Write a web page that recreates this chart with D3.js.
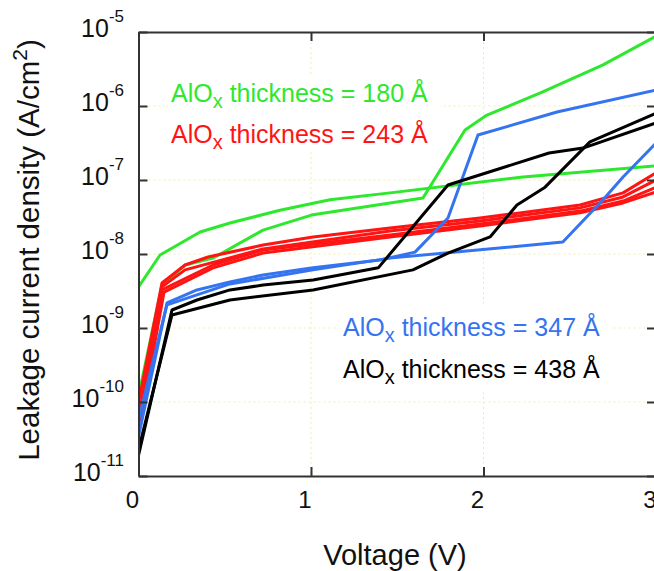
<!DOCTYPE html>
<html>
<head>
<meta charset="utf-8">
<script src="https://cdn.jsdelivr.net/npm/d3@7"></script>
<style>
  html, body { margin: 0; padding: 0; background: #fff; }
  svg { display: block; font-family: Arial, "Liberation Sans", sans-serif; }
</style>
</head>
<body>
<svg id="chart" width="654" height="571"></svg>
<script>
// Leakage current density J (A/cm^2) versus applied voltage V (V), [V, J] pairs
const green180a = [[0,3.6e-9],[0.125,9.7e-9],[0.357,1.98e-8],[0.53,2.62e-8],[0.82,3.9e-8],[1.11,5.4e-8],[1.458,6.7e-8],[2.229,1.1e-7],[3.0,1.55e-7]];
const green180b = [[0,1.2e-10],[0.136,3.8e-9],[0.27,7.1e-9],[0.432,8.8e-9],[0.722,2.1e-8],[1.012,3.4e-8],[1.458,4.9e-8],[1.649,5.7e-8],[1.893,4.75e-7],[2.02,7.55e-7],[2.33,1.5e-6],[2.693,3.6e-6],[3.0,8.8e-6]];

const red243a = [[0,9.7e-11],[0.136,4.05e-9],[0.27,7.1e-9],[0.403,9.1e-9],[0.722,1.32e-8],[1.012,1.7e-8],[1.458,2.24e-8],[1.98,3.06e-8],[2.56,4.6e-8],[2.809,6.7e-8],[3.0,1.25e-7]];
const red243b = [[0,6.1e-11],[0.136,3.6e-9],[0.27,6.1e-9],[0.722,1.17e-8],[1.458,2.05e-8],[1.98,2.8e-8],[2.56,4.2e-8],[2.809,5.9e-8],[3.0,1.0e-7]];
const red243c = [[0,4.9e-11],[0.136,3.27e-9],[0.432,7.1e-9],[0.722,1.13e-8],[1.458,1.8e-8],[1.98,2.54e-8],[2.56,3.8e-8],[2.809,5.2e-8],[3.0,8.0e-8]];
const red243d = [[0,3.8e-11],[0.148,3.06e-9],[0.432,6.5e-9],[0.722,1.03e-8],[1.458,1.7e-8],[1.98,2.39e-8],[2.56,3.6e-8],[2.809,4.9e-8],[3.0,6.9e-8]];

const blue347a = [[0,3.4e-11],[0.165,2.18e-9],[0.339,3.27e-9],[0.53,4.2e-9],[0.722,5.2e-9],[1.012,6.5e-9],[1.40,8.3e-9],[1.603,1.06e-8],[1.794,3.06e-8],[1.968,4.05e-7],[2.426,8.3e-7],[3.0,1.64e-6]];
const blue347b = [[0,5.7e-11],[0.165,2.05e-9],[0.53,3.94e-9],[1.012,6.1e-9],[1.458,8.8e-9],[2.46,1.45e-8],[2.693,5.4e-8],[2.809,1.1e-7],[3.0,3.16e-7]];

const black438a = [[0,1.9e-11],[0.194,1.75e-9],[0.339,2.39e-9],[0.53,3.27e-9],[0.722,3.8e-9],[1.012,4.45e-9],[1.39,6.5e-9],[1.794,8.55e-8],[2.38,2.32e-7],[2.577,2.7e-7],[3.0,5.9e-7]];
const black438b = [[0,2.25e-11],[0.194,1.5e-9],[0.53,2.39e-9],[1.012,3.27e-9],[1.591,6.1e-9],[1.794,1.03e-8],[2.038,1.7e-8],[2.194,4.6e-8],[2.357,8.0e-8],[2.617,3.27e-7],[3.0,8.0e-7]];

const xTicks = [0, 1, 2, 3];
const yExponents = [-5, -6, -7, -8, -9, -10, -11];

const thicknessLabels = ["180", "243", "347", "438"];
const seriesColors = ["#2ee82e", "#ff1414", "#3574f0", "#000000"];

const svg = d3.select("#chart");
const plotLeft = 138.5, plotRight = 656, plotTop = 32, plotBottom = 476;

const x = d3.scaleLinear().domain([0, 3]).range([plotLeft, plotRight]);
const y = d3.scaleLog().domain([1e-11, 1e-5]).range([plotBottom, plotTop]);

svg.append("defs").append("clipPath").attr("id", "plotClip")
  .append("rect").attr("x", plotLeft).attr("y", plotTop)
  .attr("width", plotRight - plotLeft).attr("height", plotBottom - plotTop);

// faint dotted grid
const grid = svg.append("g").attr("stroke", "#efefa6").attr("stroke-width", 1).attr("stroke-dasharray", "2,3");
[1, 2].forEach(v => grid.append("line").attr("x1", x(v)).attr("x2", x(v)).attr("y1", plotTop).attr("y2", plotBottom));
yExponents.slice(1, -1).forEach(e => grid.append("line")
  .attr("x1", plotLeft).attr("x2", plotRight)
  .attr("y1", y(Math.pow(10, e))).attr("y2", y(Math.pow(10, e))));

// white boxes behind the annotation text
svg.append("rect").attr("x", 165).attr("y", 75).attr("width", 275).attr("height", 76).attr("fill", "#fff");
svg.append("rect").attr("x", 338).attr("y", 306).attr("width", 274).attr("height", 84).attr("fill", "#fff");

// curves
const line = d3.line().x(d => x(d[0])).y(d => y(d[1]));
const curves = [
  [green180a, 0], [green180b, 0],
  [red243a, 1], [red243b, 1], [red243c, 1], [red243d, 1],
  [blue347a, 2], [blue347b, 2],
  [black438a, 3], [black438b, 3]
];
const plot = svg.append("g").attr("clip-path", "url(#plotClip)");
plot.selectAll("path").data(curves).join("path")
  .attr("d", d => line(d[0]))
  .attr("fill", "none")
  .attr("stroke", d => seriesColors[d[1]])
  .attr("stroke-width", 3)
  .attr("stroke-linejoin", "round");

// frame with inward ticks
const axisColor = "#333";
const ax = svg.append("g");
ax.append("g").attr("transform", `translate(0,${plotBottom})`)
  .call(d3.axisBottom(x).tickValues(xTicks).tickSizeInner(-9).tickSizeOuter(0).tickFormat(""));
ax.append("g").attr("transform", `translate(0,${plotTop})`)
  .call(d3.axisTop(x).tickValues(xTicks).tickSizeInner(-9).tickSizeOuter(0).tickFormat(""));
const yTickVals = yExponents.map(e => Math.pow(10, e));
ax.append("g").attr("transform", `translate(${plotLeft},0)`)
  .call(d3.axisLeft(y).tickValues(yTickVals).tickSizeInner(-9).tickSizeOuter(0).tickFormat(""));
ax.append("g").attr("transform", `translate(${plotRight},0)`)
  .call(d3.axisRight(y).tickValues(yTickVals).tickSizeInner(-9).tickSizeOuter(0).tickFormat(""));
ax.selectAll("path.domain, .tick line").attr("stroke", axisColor).attr("stroke-width", 2);

// x tick labels (the last one sits at the right edge of the frame)
svg.append("g").selectAll("text").data(xTicks).join("text")
  .attr("x", d => x(d) - 6).attr("y", plotBottom + 32)
  .attr("text-anchor", "middle").attr("font-size", 24).attr("fill", "#111")
  .text(d => d);

// y tick labels as powers of ten
const yl = svg.append("g").selectAll("text").data(yExponents).join("text")
  .attr("x", 124).attr("y", d => y(Math.pow(10, d)) + 5)
  .attr("text-anchor", "end").attr("fill", "#111");
yl.append("tspan").attr("font-size", 25).text("10");
yl.append("tspan").attr("font-size", 17).attr("dy", -15).text(d => "-" + Math.abs(d));

// axis titles
svg.append("text").attr("x", 395).attr("y", 565).attr("text-anchor", "middle")
  .attr("font-size", 29).attr("fill", "#111").text("Voltage (V)");
const yt = svg.append("text").attr("transform", "translate(39,250) rotate(-90)")
  .attr("text-anchor", "middle").attr("font-size", 29.5).attr("fill", "#111");
yt.append("tspan").text("Leakage current density (A/cm");
yt.append("tspan").attr("font-size", 21).attr("dy", -12).text("2");
yt.append("tspan").attr("dy", 12).text(")");

// thickness annotations
const notePos = [[171, 102], [171, 143], [343, 336], [343, 378]];
thicknessLabels.forEach((t, i) => {
  const tx = svg.append("text").attr("x", notePos[i][0]).attr("y", notePos[i][1])
    .attr("font-size", 25).attr("fill", seriesColors[i]);
  tx.append("tspan").text("AlO");
  tx.append("tspan").attr("font-size", 20).attr("dy", 6).text("x");
  tx.append("tspan").attr("dy", -6).text(" thickness = " + t + " Å");
});
</script>
</body>
</html>
